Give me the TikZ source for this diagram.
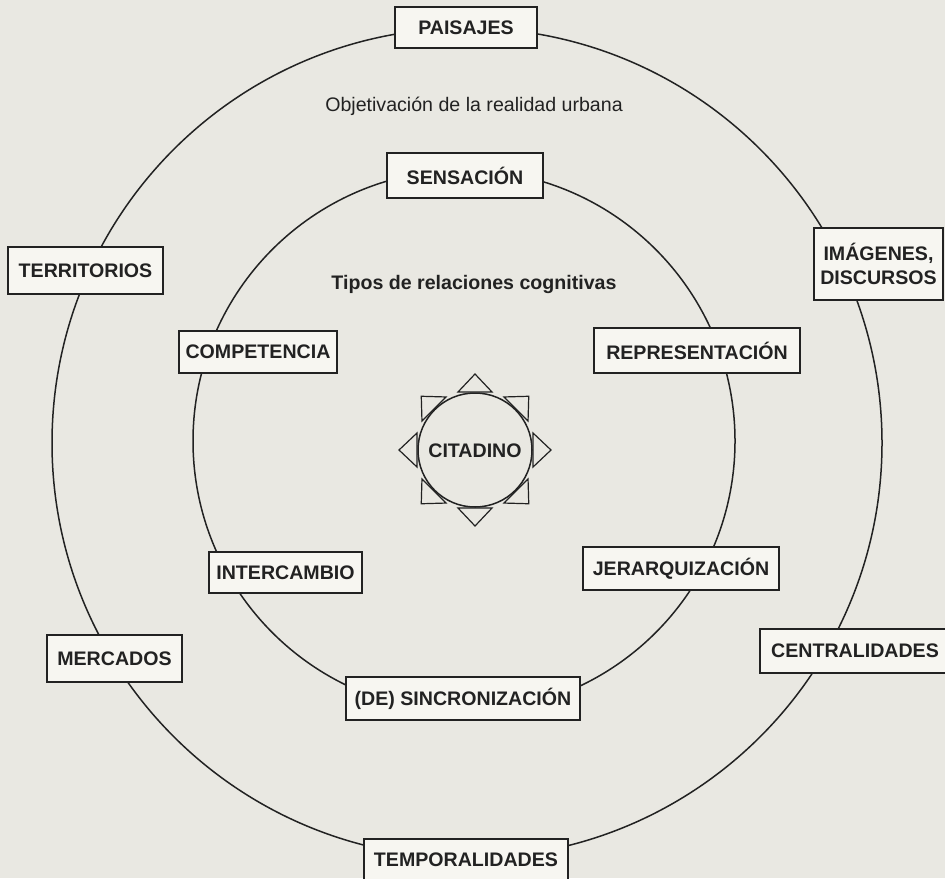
\documentclass[tikz,border=0pt]{standalone}
\usepackage{fontspec}
\setmainfont{Liberation Sans}
\usetikzlibrary{calc}
\definecolor{mpaper}{HTML}{E9E8E2}
\definecolor{mbox}{HTML}{F7F6F1}
\definecolor{mink}{HTML}{222222}
\tikzset{
  ring/.style={draw=mink, line width=0.75pt},
  lbox/.style={draw=mink, fill=mbox, line width=0.6pt, text=mink,
               font=\fontsize{9.8}{12}\selectfont\bfseries, inner sep=0pt, align=center},
  tip/.style={draw=mink, line width=0.6pt, line join=miter},
  title/.style={text=mink, font=\fontsize{9.8}{12}\selectfont},
}
\begin{document}
\begin{tikzpicture}[x=0.5pt, y=-0.5pt]
  \fill[mpaper] (0,0) rectangle (945,878);
  \useasboundingbox (0,0) rectangle (945,878);
  \clip (0,0) rectangle (945,878);

  % rings
  \coordinate (outc) at (467,443);
  \coordinate (midc) at (464,441);
  \coordinate (cit) at (475,450);
  \draw[ring] (outc) circle (415);
  \draw[ring] (midc) circle (271);

  % citadino
  \foreach \a in {0,45,...,315} {
    \draw[tip, fill=mpaper] ($(cit)+(\a:58)+(\a+90:17)$) -- ($(cit)+(\a:76)$)
      -- ($(cit)+(\a:58)+(\a-90:17)$) -- cycle;
  }
  \draw[ring, fill=mpaper] (cit) circle (57);
  \node[lbox, draw=none, fill=none] (citadino) at (475,451) {CITADINO};

  \node[title] (objetiv) at (474,106) {Objetivación de la realidad urbana};
  \node[title, font=\fontsize{9.8}{12}\selectfont\bfseries] (tipos) at (474,284) {Tipos de relaciones cognitivas};

  % outer ring
  \node[lbox, minimum width=71pt, minimum height=20.5pt] (paisajes) at (466,27.5) {PAISAJES};
  \node[lbox, minimum width=77.5pt, minimum height=23.5pt] (territ) at (85.5,270.5) {TERRITORIOS};
  \node[lbox, minimum width=64.5pt, minimum height=36pt] (imagenes) at (878.5,264) {IMÁGENES,\\DISCURSOS};
  \node[lbox, minimum width=67.5pt, minimum height=23.5pt] (mercados) at (114.5,658.5) {MERCADOS};
  \node[lbox, minimum width=95pt, minimum height=22pt] (centr) at (855,651) {CENTRALIDADES};
  \node[lbox, minimum width=102pt, minimum height=21pt] (tempor) at (466,860) {TEMPORALIDADES};

  % middle ring
  \node[lbox, minimum width=78pt, minimum height=22.5pt] (sensacion) at (465,175.5) {SENSACIÓN};
  \node[lbox, minimum width=79pt, minimum height=21pt] (compet) at (258,352) {COMPETENCIA};
  \node[lbox, minimum width=103pt, minimum height=22.5pt] (repres) at (697,350.5) {REPRESENTACIÓN};
  \node[lbox, minimum width=76.5pt, minimum height=20.5pt] (intercambio) at (285.5,572.5) {INTERCAMBIO};
  \node[lbox, minimum width=98pt, minimum height=21.5pt] (jerarq) at (681,568.5) {JERARQUIZACIÓN};
  \node[lbox, minimum width=117pt, minimum height=21.5pt] (sincro) at (463,698.5) {(DE) SINCRONIZACIÓN};
\end{tikzpicture}
\end{document}
